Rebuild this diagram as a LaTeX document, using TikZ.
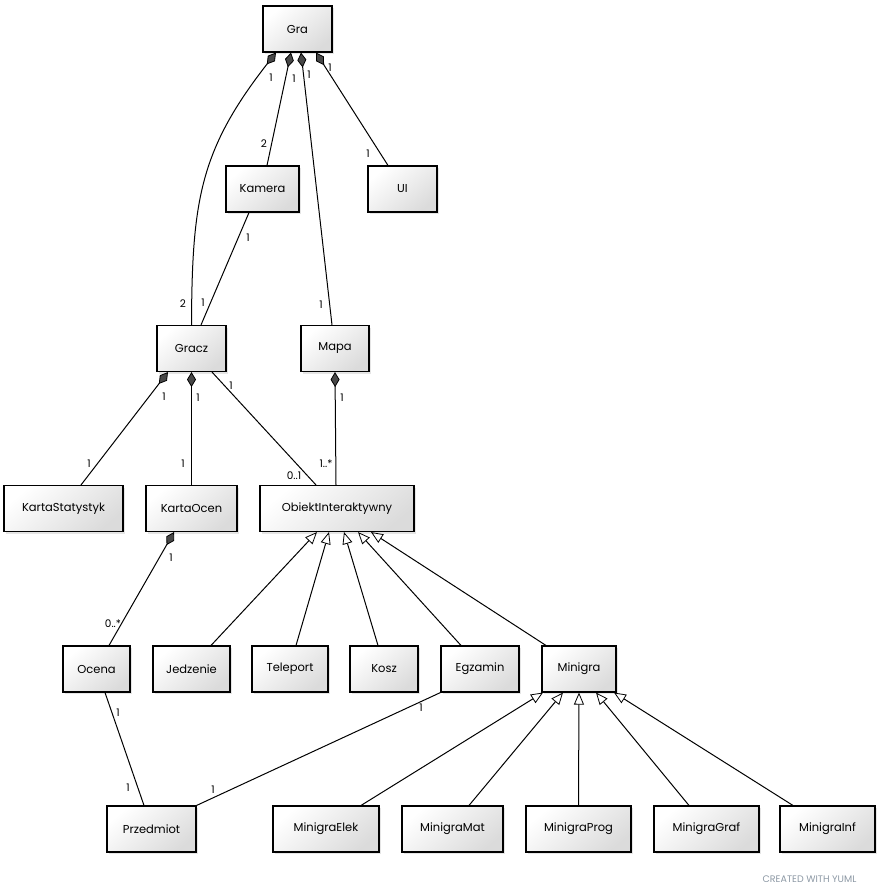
\documentclass[tikz,border=0pt]{standalone}
\usepackage{fontspec}
\setmainfont{Poppins}
\usetikzlibrary{arrows.meta,shadows}
\definecolor{wmgray}{HTML}{8C98A4}
\tikzset{
  cls/.style={draw=black, line width=1.1pt, minimum height=46pt, inner sep=0pt,
    top color=white, bottom color=black!14, shading angle=40,
    drop shadow={shadow xshift=2pt, shadow yshift=-2pt, fill=black!10, draw=none, opacity=1},
    font=\fontsize{11.5}{13}\selectfont},
  edge/.style={draw=black, line width=1pt},
  comp/.style={edge, {Diamond[length=15pt,width=9pt,fill=black!72,line width=0.8pt]}-},
  gen/.style={edge, -{Triangle[length=12pt,width=10pt,fill=white,line width=0.8pt]}},
  lbl/.style={inner sep=0pt, font=\fontsize{10.5}{12}\selectfont},
}
\begin{document}
\begin{tikzpicture}[x=1pt,y=-1pt]
\useasboundingbox (0,0) rectangle (879,895);
% classes
\node[cls, minimum width=69pt]  (gra)    at (297.5,29)  {Gra};
\node[cls, minimum width=73pt]  (kamera) at (262.5,189) {Kamera};
\node[cls, minimum width=69pt]  (ui)     at (402.5,189) {UI};
\node[cls, minimum width=69pt]  (gracz)  at (191.5,348.5) {Gracz};
\node[cls, minimum width=68pt]  (mapa)   at (335,348.5) {Mapa};
\node[cls, minimum width=119pt] (kstat)  at (63.5,508.5) {KartaStatystyk};
\node[cls, minimum width=91pt]  (kocen)  at (191.5,508.5) {KartaOcen};
\node[cls, minimum width=154pt] (obiekt) at (337,508.5) {ObiektInteraktywny};
\node[cls, minimum width=67pt]  (ocena)  at (96.5,669) {Ocena};
\node[cls, minimum width=77pt]  (jedz)   at (191.5,669) {Jedzenie};
\node[cls, minimum width=76pt]  (tele)   at (290,669) {Teleport};
\node[cls, minimum width=68pt]  (kosz)   at (384,669) {Kosz};
\node[cls, minimum width=78pt]  (egz)    at (480,669) {Egzamin};
\node[cls, minimum width=74pt]  (mini)   at (579,669) {Minigra};
\node[cls, minimum width=89pt]  (przed)  at (151.5,829) {Przedmiot};
\node[cls, minimum width=106pt] (melek)  at (326,829) {MinigraElek};
\node[cls, minimum width=101pt] (mmat)   at (452.5,829) {MinigraMat};
\node[cls, minimum width=105pt] (mprog)  at (578.5,829) {MinigraProg};
\node[cls, minimum width=105pt] (mgraf)  at (706.5,829) {MinigraGraf};
\node[cls, minimum width=95pt]  (minf)   at (827.5,829) {MinigraInf};
% compositions from Gra
\draw[comp] ([xshift=-21.5pt]gra.south) .. controls (200,150) and (192,200) .. (gracz.north);
\draw[comp] ([xshift=-6.5pt]gra.south) -- ([xshift=4.5pt]kamera.north);
\draw[comp] ([xshift=3.5pt]gra.south) -- ([xshift=-3pt]mapa.north);
\draw[comp] ([xshift=18.5pt]gra.south) -- ([xshift=-14.5pt]ui.north);
% Kamera - Gracz
\draw[edge] ([xshift=-13.5pt]kamera.south) -- ([xshift=9.5pt]gracz.north);
% from Gracz
\draw[comp] ([xshift=-23.5pt]gracz.south) -- ([xshift=17.5pt]kstat.north);
\draw[comp] (gracz.south) -- (kocen.north);
\draw[edge] ([xshift=20.5pt]gracz.south) -- ([xshift=-21pt]obiekt.north);
% Mapa
\draw[comp] (mapa.south) -- ([xshift=-1pt]obiekt.north);
% KartaOcen - Ocena
\draw[comp] ([xshift=-17.5pt]kocen.south) -- ([xshift=12.5pt]ocena.north);
% Ocena - Przedmiot
\draw[edge] ([xshift=8.5pt]ocena.south) -- ([xshift=-7.5pt]przed.north);
% Egzamin - Przedmiot
\draw[edge] (egz.south west) -- (przed.north east);
% generalizations to ObiektInteraktywny
\draw[gen] ([xshift=19.5pt]jedz.north) -- ([xshift=-20pt]obiekt.south);
\draw[gen] ([xshift=6pt]tele.north) -- ([xshift=-8pt]obiekt.south);
\draw[gen] ([xshift=-6pt]kosz.north) -- ([xshift=7pt]obiekt.south);
\draw[gen] ([xshift=-19pt]egz.north) -- ([xshift=21pt]obiekt.south);
\draw[gen] ([xshift=-33pt]mini.north) -- ([xshift=34pt]obiekt.south);
% generalizations to Minigra
\draw[gen] ([xshift=35pt]melek.north) -- ([xshift=-36pt]mini.south);
\draw[gen] ([xshift=16.5pt]mmat.north) -- ([xshift=-16pt]mini.south);
\draw[gen] (mprog.north) -- (mini.south);
\draw[gen] ([xshift=-17.5pt]mgraf.north) -- ([xshift=17pt]mini.south);
\draw[gen] ([xshift=-34.5pt]minf.north) -- ([xshift=35pt]mini.south);
% multiplicity labels
\node[lbl] (l1)  at (271,78)  {1};
\node[lbl] (l2)  at (183,304) {2};
\node[lbl] (l3)  at (294,79)  {1};
\node[lbl] (l4)  at (264,144) {2};
\node[lbl] (l5)  at (309,75)  {1};
\node[lbl] (l6)  at (321,305) {1};
\node[lbl] (l7)  at (330,68)  {1};
\node[lbl] (l8)  at (368,154) {1};
\node[lbl] (l9)  at (248,238) {1};
\node[lbl] (l10) at (203,303) {1};
\node[lbl] (l11) at (164,397) {1};
\node[lbl] (l12) at (89,464)  {1};
\node[lbl] (l13) at (198,398) {1};
\node[lbl] (l14) at (183,464) {1};
\node[lbl] (l15) at (231,386) {1};
\node[lbl] (l16) at (294,476) {0..1};
\node[lbl] (l17) at (342,398) {1};
\node[lbl] (l18) at (326,464) {1..*};
\node[lbl] (l19) at (171,558) {1};
\node[lbl] (l20) at (113,624) {0..*};
\node[lbl] (l21) at (118,713) {1};
\node[lbl] (l22) at (128,788) {1};
\node[lbl] (l23) at (421,708) {1};
\node[lbl] (l24) at (213,790) {1};
% watermark
\node[inner sep=0pt, text=wmgray, font=\fontsize{9.5}{11}\selectfont] (wm) at (809.5,879) {CREATED WITH YUML};
\end{tikzpicture}
\end{document}
